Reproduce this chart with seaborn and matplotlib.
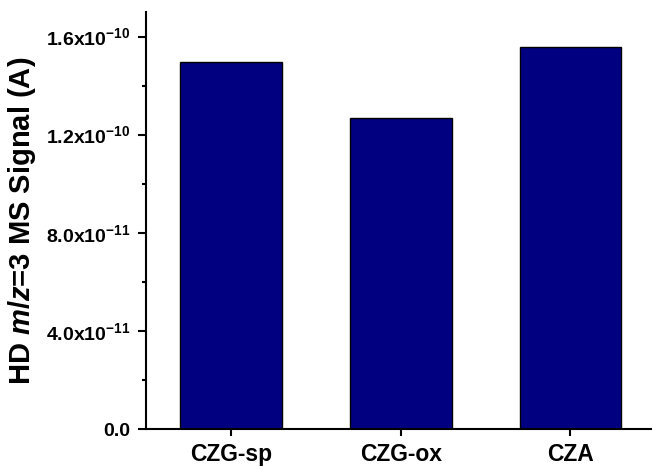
import matplotlib
matplotlib.use("Agg")
import matplotlib.pyplot as plt
import seaborn as sns
import pandas as pd

# Data
samples = ["CZG-sp", "CZG-ox", "CZA"]
signal = [1.496e-10, 1.268e-10, 1.557e-10]
ytick_values = [0.0, 4.0e-11, 8.0e-11, 1.2e-10, 1.6e-10]
ytick_labels = ["0.0",
                r"4.0x10$^{\mathbf{-11}}$",
                r"8.0x10$^{\mathbf{-11}}$",
                r"1.2x10$^{\mathbf{-10}}$",
                r"1.6x10$^{\mathbf{-10}}$"]

sns.set_style("ticks")
plt.rcParams["font.family"] = ["Liberation Sans", "DejaVu Sans"]
plt.rcParams["mathtext.fontset"] = "custom"
plt.rcParams["mathtext.rm"] = "Liberation Sans:bold"
plt.rcParams["mathtext.bf"] = "Liberation Sans:bold"
plt.rcParams["mathtext.it"] = "Liberation Sans:bold:italic"
plt.rcParams["text.color"] = "black"
plt.rcParams["xtick.color"] = "black"
plt.rcParams["ytick.color"] = "black"
plt.rcParams["axes.labelcolor"] = "black"
plt.rcParams["axes.edgecolor"] = "black"

df = pd.DataFrame({"sample": samples, "signal": signal})

fig = plt.figure(figsize=(6.52, 4.70), dpi=100)
ax = fig.add_axes([0.2239, 0.0872, 0.7761, 0.8873])

sns.barplot(data=df, x="sample", y="signal", color="#000080", saturation=1,
            width=0.6, edgecolor="black", linewidth=1.0, ax=ax)

ax.set_xlim(-0.5, 2.48)
ax.set_ylim(0, 1.7e-10)
ax.set_yticks(ytick_values)
ax.set_yticklabels(ytick_labels)
ax.set_yticks([2e-11, 6e-11, 1.0e-10, 1.4e-10], minor=True)

for lbl in ax.get_yticklabels() + ax.get_xticklabels():
    lbl.set_fontweight("bold")
ax.tick_params(axis="y", which="major", labelsize=14, width=1.5, length=6,
               direction="out", pad=5)
ax.tick_params(axis="y", which="minor", width=1.5, length=3, direction="out")
ax.tick_params(axis="x", which="major", labelsize=16.5, width=1.5, length=5,
               direction="out", pad=5)

ax.set_xlabel("")
ax.set_ylabel(r"HD $m/z$=3 MS Signal (A)", fontsize=21, fontweight="bold", labelpad=6)

sns.despine(ax=ax)
for s in ["left", "bottom"]:
    ax.spines[s].set_linewidth(1.5)

fig.savefig("out.png", dpi=100)
